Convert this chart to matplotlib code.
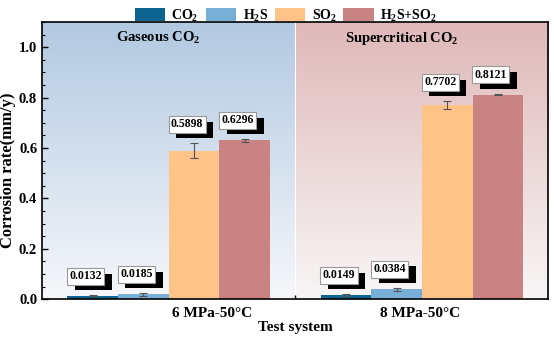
import numpy as np
import matplotlib
matplotlib.use('Agg')
import matplotlib.pyplot as plt
import matplotlib.patheffects as pe
from matplotlib.ticker import MultipleLocator
from matplotlib.colors import LinearSegmentedColormap

# Data
conditions = ['6 MPa-50°C', '8 MPa-50°C']
regions = ['Gaseous CO$_2$', 'Supercritical CO$_2$']
series = ['CO$_2$', 'H$_2$S', 'SO$_2$', 'H$_2$S+SO$_2$']
colors = ['#0e6491', '#78afd6', '#fec387', '#c98383']
rate_6mpa = [0.0132, 0.0185, 0.5898, 0.6296]
rate_8mpa = [0.0149, 0.0384, 0.7702, 0.8121]
err_6mpa = [0.002, 0.005, 0.029, 0.005]
err_8mpa = [0.004, 0.005, 0.015, 0.003]

plt.rcParams['font.family'] = 'Liberation Serif'
plt.rcParams['font.weight'] = 'bold'
plt.rcParams['axes.labelweight'] = 'bold'
plt.rcParams['mathtext.default'] = 'regular'

fig, ax = plt.subplots(figsize=(5.54, 3.38), dpi=100)
fig.subplots_adjust(left=0.076, right=0.99, top=0.935, bottom=0.115)

xmin, xmax, ymax = -1.0, 9.0, 1.1
ax.set_xlim(xmin, xmax)
ax.set_ylim(0, ymax)

# Gradient backgrounds for the two regimes
grad = np.linspace(1, 0, 256).reshape(-1, 1)
cm_blue = LinearSegmentedColormap.from_list('b', ['#f6f7fa', '#b2c9e2'])
cm_red = LinearSegmentedColormap.from_list('r', ['#f8f6f6', '#e0b8b9'])
ax.imshow(grad, cmap=cm_blue, extent=(xmin, 4.0, 0, ymax), aspect='auto', zorder=0)
ax.imshow(grad, cmap=cm_red, extent=(4.0, xmax, 0, ymax), aspect='auto', zorder=0)
ax.axvline(4.0, color='white', lw=0.8, zorder=1)

# Bars
shadow = [pe.SimplePatchShadow(offset=(5.5, -4), shadow_rgbFace='black', alpha=1.0), pe.Normal()]
groups = [(0, rate_6mpa, err_6mpa), (5, rate_8mpa, err_8mpa)]
for start, vals, errs in groups:
    for i, (v, e) in enumerate(zip(vals, errs)):
        x = start + i
        ax.bar(x, v, width=1.0, color=colors[i], zorder=2,
               label=series[i] if start == 0 else None)
        ax.errorbar(x, v, yerr=e, color='#555555', lw=0.8, capsize=3,
                    capthick=0.8, zorder=3)
        ytxt = v + e + 0.075
        t = ax.annotate('%.4f' % v, xy=(x, ytxt), xytext=(-5, 0),
                        textcoords='offset points', ha='center', va='center',
                        fontsize=8.5, color='black', zorder=5,
                        bbox=dict(boxstyle='square,pad=0.2', fc='white', ec='#999999', lw=0.8))
        t.get_bbox_patch().set_path_effects(shadow)

# Region titles
ax.text(1.3, 1.035, regions[0], ha='center', va='center', fontsize=10.5)
ax.text(6.1, 1.035, regions[1], ha='center', va='center', fontsize=10.5)

# Axes styling
ax.set_xticks([4.0])
ax.set_xticklabels([''])
ax.tick_params(axis='x', direction='in', length=3, width=1)
ax.tick_params(axis='y', direction='in', length=4, width=1, labelsize=10.5)
ax.tick_params(axis='y', which='minor', direction='in', length=2, width=0.8)
ax.yaxis.set_major_locator(MultipleLocator(0.2))
ax.yaxis.set_minor_locator(MultipleLocator(0.05))
ax.set_yticks(np.arange(0, 1.01, 0.2))
ax.set_yticklabels(['%.1f' % t for t in np.arange(0, 1.01, 0.2)])
for s in ax.spines.values():
    s.set_linewidth(1.2)

ax.text(2.36, -0.03, conditions[0], ha='center', va='top', fontsize=11)
ax.text(6.47, -0.03, conditions[1], ha='center', va='top', fontsize=11)
ax.set_xlabel('Test system', fontsize=11, labelpad=12)
ax.set_ylabel('Corrosion rate(mm/y)', fontsize=12)
ax.yaxis.set_label_coords(-0.052, 0.466)

fig.legend(loc='upper center', bbox_to_anchor=(0.516, 1.015), ncol=4, frameon=False,
           fontsize=10, handlelength=2.2, handleheight=1.1, columnspacing=0.5,
           handletextpad=0.45)

fig.savefig('out.png', dpi=100)
